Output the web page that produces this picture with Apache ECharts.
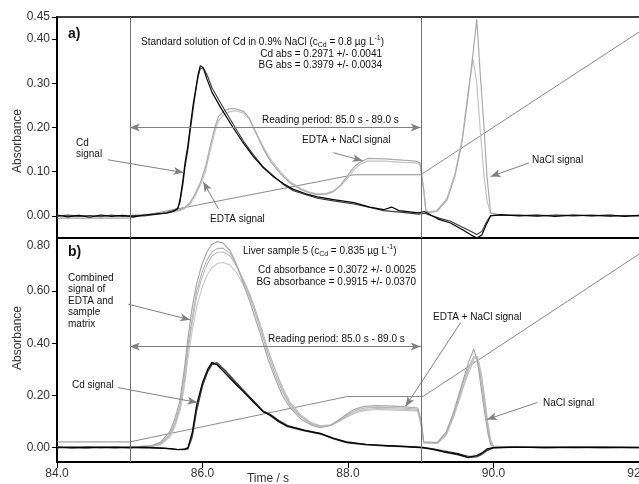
<!DOCTYPE html>
<html>
<head>
<meta charset="utf-8">
<script src="https://cdn.jsdelivr.net/npm/echarts@6/dist/echarts.min.js"></script>
<style>html,body{margin:0;padding:0;background:#fff}#c{width:639px;height:484px}</style>
</head>
<body>
<div id="c"></div>
<script>
// ---------- Data (time in s, absorbance) ----------
const xTicks = [84, 86, 88, 90, 92];
const yTicksA = [0, 0.1, 0.2, 0.3, 0.4, 0.45];
const yTicksB = [0, 0.2, 0.4, 0.6, 0.8];
const readingPeriod = [85.0, 89.0];

// Panel a: standard solution
const cdA1 = [[84.0,0.002],[84.15,-0.002],[84.3,0.001],[84.45,-0.003],[84.6,0.002],[84.75,-0.001],[84.9,0.001],[85.05,-0.002],[85.2,0.002],[85.35,0.004],[85.5,0.006],[85.6,0.01],[85.66,0.016],[85.69,0.036],[85.73,0.08],[85.76,0.12],[85.8,0.16],[85.83,0.2],[85.87,0.25],[85.9,0.28],[85.94,0.32],[85.97,0.34],[86.01,0.335],[86.06,0.31],[86.13,0.28],[86.25,0.245],[86.42,0.2],[86.56,0.165],[86.7,0.134],[86.84,0.108],[86.98,0.088],[87.12,0.072],[87.25,0.06],[87.42,0.05],[87.58,0.043],[87.8,0.037],[88.08,0.03],[88.3,0.02],[88.49,0.014],[88.6,0.02],[88.7,0.012],[88.97,0.007],[89.05,0.01],[89.25,-0.008],[89.41,-0.016],[89.58,-0.032],[89.7,-0.044],[89.77,-0.05],[89.84,-0.043],[89.9,-0.02],[89.96,0.0],[90.1,0.003],[90.35,0.0],[90.6,0.002],[90.85,-0.001],[91.1,0.002],[91.35,0.0],[91.6,0.002],[91.8,-0.001],[92.0,0.001]];
const cdA2 = [[84.0,-0.001],[84.15,0.002],[84.3,-0.001],[84.45,0.001],[84.6,-0.002],[84.75,0.002],[84.9,-0.001],[85.05,0.001],[85.2,0.0],[85.35,0.003],[85.5,0.007],[85.6,0.012],[85.66,0.018],[85.69,0.03],[85.73,0.07],[85.76,0.11],[85.8,0.15],[85.83,0.19],[85.87,0.24],[85.9,0.275],[85.94,0.315],[85.97,0.333],[86.01,0.335],[86.06,0.32],[86.13,0.29],[86.25,0.255],[86.42,0.208],[86.56,0.17],[86.7,0.138],[86.84,0.11],[86.98,0.09],[87.12,0.07],[87.25,0.057],[87.42,0.048],[87.58,0.04],[87.8,0.034],[88.08,0.027],[88.3,0.019],[88.49,0.012],[88.75,0.008],[88.97,0.004],[89.05,0.006],[89.25,-0.005],[89.41,-0.012],[89.58,-0.026],[89.7,-0.036],[89.77,-0.042],[89.84,-0.035],[89.9,-0.015],[89.96,0.001],[90.1,0.001],[90.35,0.002],[90.6,-0.001],[90.85,0.002],[91.1,0.0],[91.35,0.002],[91.6,-0.001],[91.8,0.001],[92.0,0.0]];
const edA1 = [[84.0,0.0],[84.3,0.001],[84.6,-0.001],[85.0,0.001],[85.3,0.004],[85.5,0.008],[85.65,0.012],[85.75,0.018],[85.83,0.03],[85.9,0.05],[85.97,0.075],[86.04,0.11],[86.11,0.16],[86.17,0.2],[86.22,0.225],[86.3,0.238],[86.38,0.243],[86.46,0.242],[86.57,0.236],[86.64,0.222],[86.7,0.2],[86.77,0.175],[86.84,0.15],[86.95,0.12],[87.07,0.096],[87.2,0.075],[87.35,0.06],[87.47,0.052],[87.58,0.048],[87.7,0.049],[87.8,0.055],[87.9,0.07],[87.99,0.09],[88.07,0.108],[88.15,0.12],[88.27,0.13],[88.5,0.129],[88.75,0.126],[88.93,0.124],[88.99,0.12],[89.04,0.06],[89.07,0.012],[89.11,0.007],[89.22,0.01],[89.36,0.036],[89.47,0.09],[89.57,0.17],[89.65,0.27],[89.72,0.37],[89.77,0.445],[89.82,0.316],[89.87,0.2],[89.91,0.09],[89.96,0.007],[90.1,0.002],[90.5,0.0],[91.0,0.002],[91.5,0.0],[92.0,0.001]];
const edA2 = [[84.0,0.001],[84.3,0.0],[84.6,0.001],[85.0,0.0],[85.3,0.003],[85.5,0.007],[85.65,0.01],[85.75,0.016],[85.83,0.027],[85.9,0.045],[85.97,0.07],[86.04,0.1],[86.11,0.15],[86.17,0.19],[86.22,0.215],[86.3,0.23],[86.38,0.236],[86.46,0.238],[86.57,0.232],[86.64,0.22],[86.7,0.2],[86.77,0.178],[86.84,0.155],[86.95,0.125],[87.07,0.1],[87.2,0.078],[87.35,0.062],[87.47,0.054],[87.58,0.05],[87.7,0.051],[87.8,0.057],[87.9,0.068],[87.99,0.085],[88.07,0.102],[88.15,0.115],[88.27,0.124],[88.5,0.124],[88.75,0.121],[88.93,0.12],[88.99,0.117],[89.04,0.06],[89.07,0.014],[89.11,0.009],[89.22,0.012],[89.36,0.04],[89.47,0.095],[89.57,0.175],[89.65,0.28],[89.72,0.355],[89.77,0.3],[89.82,0.19],[89.87,0.09],[89.91,0.035],[89.96,0.005],[90.1,0.001],[90.5,0.002],[91.0,0.0],[91.5,0.001],[92.0,0.0]];
const tempA = [[84.0,-0.005],[85.0,-0.005],[88.08,0.093],[89.0,0.093],[92.0,0.416]];

// Panel b: liver sample 5
const cdB1 = [[84.0,0.002],[84.2,-0.001],[84.4,0.002],[84.6,0.0],[84.8,0.002],[85.0,-0.001],[85.2,0.001],[85.4,-0.002],[85.55,-0.004],[85.65,-0.007],[85.75,-0.006],[85.8,0.0],[85.86,0.06],[85.92,0.165],[86.0,0.25],[86.07,0.3],[86.13,0.327],[86.2,0.318],[86.33,0.28],[86.45,0.245],[86.56,0.215],[86.7,0.175],[86.83,0.138],[86.93,0.125],[87.05,0.1],[87.17,0.082],[87.4,0.066],[87.62,0.054],[87.8,0.035],[87.99,0.02],[88.25,0.012],[88.55,0.008],[88.8,0.004],[89.03,0.0],[89.17,-0.006],[89.31,-0.015],[89.5,-0.025],[89.65,-0.037],[89.77,-0.03],[89.84,-0.02],[89.91,-0.005],[90.0,0.0],[90.3,0.002],[90.7,0.0],[91.1,0.002],[91.5,0.0],[92.0,0.001]];
const cdB2 = [[84.0,-0.001],[84.2,0.002],[84.4,0.0],[84.6,0.002],[84.8,-0.001],[85.0,0.001],[85.2,0.002],[85.4,-0.001],[85.55,-0.003],[85.65,-0.006],[85.75,-0.007],[85.8,-0.003],[85.86,0.05],[85.92,0.15],[86.0,0.24],[86.07,0.29],[86.13,0.318],[86.2,0.322],[86.33,0.288],[86.45,0.25],[86.56,0.22],[86.7,0.18],[86.83,0.142],[86.93,0.128],[87.05,0.104],[87.17,0.085],[87.4,0.068],[87.62,0.055],[87.8,0.037],[87.99,0.022],[88.25,0.013],[88.55,0.007],[88.8,0.005],[89.03,0.001],[89.17,-0.004],[89.31,-0.012],[89.5,-0.022],[89.65,-0.033],[89.77,-0.033],[89.84,-0.024],[89.91,-0.01],[90.0,0.0],[90.3,0.001],[90.7,0.002],[91.1,0.0],[91.5,0.002],[92.0,0.0]];
const cdB3 = [[84.0,0.001],[84.2,0.0],[84.4,-0.002],[84.6,0.001],[84.8,0.0],[85.0,0.002],[85.2,-0.001],[85.4,0.0],[85.55,-0.005],[85.65,-0.008],[85.75,-0.008],[85.8,-0.005],[85.86,0.04],[85.92,0.14],[86.0,0.235],[86.07,0.292],[86.13,0.322],[86.2,0.326],[86.33,0.292],[86.45,0.255],[86.56,0.222],[86.7,0.178],[86.83,0.14],[86.93,0.122],[87.05,0.098],[87.17,0.08],[87.4,0.064],[87.62,0.052],[87.8,0.033],[87.99,0.018],[88.25,0.01],[88.55,0.006],[88.8,0.003],[89.03,-0.001],[89.17,-0.008],[89.31,-0.017],[89.5,-0.027],[89.65,-0.039],[89.77,-0.036],[89.84,-0.026],[89.91,-0.012],[90.0,-0.001],[90.3,0.002],[90.7,0.0],[91.1,0.001],[91.5,0.002],[92.0,0.0]];
const edB1 = [[84.0,0.003],[84.4,0.001],[84.8,0.003],[85.1,0.004],[85.3,0.008],[85.42,0.02],[85.55,0.06],[85.62,0.11],[85.69,0.18],[85.75,0.3],[85.8,0.42],[85.86,0.54],[85.92,0.63],[85.99,0.7],[86.06,0.75],[86.13,0.78],[86.2,0.79],[86.28,0.785],[86.38,0.755],[86.47,0.7],[86.56,0.63],[86.65,0.56],[86.72,0.5],[86.79,0.44],[86.9,0.34],[87.0,0.265],[87.1,0.2],[87.2,0.155],[87.35,0.11],[87.5,0.086],[87.62,0.077],[87.76,0.085],[87.88,0.108],[87.99,0.13],[88.1,0.148],[88.22,0.158],[88.4,0.161],[88.55,0.16],[88.75,0.157],[88.96,0.152],[89.01,0.1],[89.04,0.022],[89.23,0.02],[89.35,0.06],[89.45,0.135],[89.52,0.2],[89.59,0.265],[89.66,0.33],[89.73,0.377],[89.78,0.33],[89.83,0.23],[89.88,0.13],[89.92,0.06],[89.96,0.012],[90.0,0.003],[90.3,0.001],[90.8,0.002],[91.3,0.0],[92.0,0.001]];
const edB2 = [[84.0,0.002],[84.4,0.003],[84.8,0.002],[85.1,0.003],[85.3,0.006],[85.42,0.016],[85.55,0.05],[85.62,0.095],[85.69,0.16],[85.75,0.27],[85.8,0.39],[85.86,0.5],[85.92,0.6],[85.99,0.67],[86.06,0.72],[86.13,0.75],[86.2,0.763],[86.28,0.765],[86.38,0.745],[86.47,0.7],[86.56,0.64],[86.65,0.58],[86.72,0.52],[86.79,0.46],[86.9,0.36],[87.0,0.28],[87.1,0.215],[87.2,0.165],[87.35,0.118],[87.5,0.09],[87.62,0.08],[87.76,0.086],[87.88,0.105],[87.99,0.125],[88.1,0.142],[88.22,0.152],[88.4,0.155],[88.55,0.154],[88.75,0.152],[88.96,0.147],[89.01,0.09],[89.04,0.02],[89.23,0.018],[89.35,0.055],[89.45,0.125],[89.52,0.19],[89.59,0.255],[89.66,0.31],[89.73,0.35],[89.78,0.34],[89.83,0.26],[89.88,0.16],[89.92,0.08],[89.96,0.02],[90.0,0.004],[90.3,0.002],[90.8,0.0],[91.3,0.002],[92.0,0.0]];
const edB3 = [[84.0,0.001],[84.4,0.002],[84.8,0.001],[85.1,0.003],[85.3,0.005],[85.42,0.013],[85.55,0.045],[85.62,0.09],[85.69,0.15],[85.75,0.25],[85.8,0.37],[85.86,0.48],[85.92,0.58],[85.99,0.65],[86.06,0.7],[86.13,0.735],[86.2,0.748],[86.28,0.75],[86.38,0.735],[86.47,0.695],[86.56,0.645],[86.65,0.59],[86.72,0.535],[86.79,0.475],[86.9,0.375],[87.0,0.295],[87.1,0.225],[87.2,0.172],[87.35,0.122],[87.5,0.093],[87.62,0.082],[87.76,0.085],[87.88,0.1],[87.99,0.12],[88.1,0.136],[88.22,0.146],[88.4,0.15],[88.55,0.149],[88.75,0.147],[88.96,0.143],[89.01,0.08],[89.04,0.019],[89.23,0.017],[89.35,0.05],[89.45,0.118],[89.52,0.18],[89.59,0.24],[89.66,0.3],[89.73,0.34],[89.78,0.35],[89.83,0.29],[89.88,0.19],[89.92,0.1],[89.96,0.03],[90.0,0.006],[90.3,0.001],[90.8,0.002],[91.3,0.0],[92.0,0.001]];
const edB4 = [[84.0,0.002],[84.4,0.0],[84.8,0.002],[85.1,0.002],[85.3,0.004],[85.42,0.01],[85.55,0.04],[85.62,0.08],[85.69,0.14],[85.75,0.23],[85.8,0.34],[85.86,0.45],[85.92,0.54],[85.99,0.61],[86.06,0.66],[86.13,0.69],[86.2,0.705],[86.28,0.71],[86.38,0.7],[86.47,0.67],[86.56,0.625],[86.65,0.575],[86.72,0.525],[86.79,0.47],[86.9,0.375],[87.0,0.3],[87.1,0.232],[87.2,0.178],[87.35,0.126],[87.5,0.096],[87.62,0.085],[87.76,0.088],[87.88,0.102],[87.99,0.118],[88.1,0.133],[88.22,0.142],[88.4,0.146],[88.55,0.145],[88.75,0.143],[88.96,0.14],[89.01,0.08],[89.04,0.018],[89.23,0.016],[89.35,0.048],[89.45,0.115],[89.52,0.175],[89.59,0.235],[89.66,0.29],[89.73,0.33],[89.78,0.33],[89.83,0.27],[89.88,0.17],[89.92,0.085],[89.96,0.025],[90.0,0.005],[90.3,0.002],[90.8,0.0],[91.3,0.001],[92.0,0.0]];
const tempB = [[84.0,0.022],[85.0,0.022],[87.99,0.196],[89.03,0.196],[92.0,0.742]];

// Annotation arrows: [start, end] in data coordinates
const arrowsA = [[[84.70,0.127],[85.74,0.098]], [[86.22,0.016],[86.01,0.077]], [[87.80,0.143],[88.20,0.125]], [[90.49,0.12],[89.96,0.089]]];
const arrowsB = [[[84.98,0.55],[85.83,0.49]], [[84.84,0.23],[85.93,0.173]], [[89.55,0.48],[88.79,0.158]], [[90.60,0.173],[89.91,0.108]]];
const readingArrowY = [0.20, 0.388];

// ---------- Chart ----------
const FONT = '"Liberation Sans", Arial, sans-serif';
const chart = echarts.init(document.getElementById('c'), null, {renderer: 'canvas'});

function line(data, color, width, xi, yi, z) {
  return {type: 'line', data: data, xAxisIndex: xi, yAxisIndex: yi, showSymbol: false, symbol: 'none',
    lineStyle: {color: color, width: width}, silent: true, z: z || 2, animation: false};
}
function marks(xi, yi, arrows, ry) {
  return [
    {type: 'line', data: [], xAxisIndex: xi, yAxisIndex: yi, silent: true,
      markLine: {silent: true, symbol: ['none', 'none'], label: {show: false}, animation: false,
        lineStyle: {color: '#707070', width: 1, type: 'solid'},
        data: readingPeriod.map(v => ({xAxis: v}))}},
    {type: 'line', data: [], xAxisIndex: xi, yAxisIndex: yi, silent: true,
      markLine: {silent: true, symbol: ['none', 'arrow'], symbolSize: [6, 10], label: {show: false}, animation: false,
        lineStyle: {color: '#808080', width: 1, type: 'solid'},
        data: arrows.map(a => [{coord: a[0]}, {coord: a[1]}])}},
    {type: 'line', data: [], xAxisIndex: xi, yAxisIndex: yi, silent: true,
      markLine: {silent: true, symbol: ['arrow', 'arrow'], symbolSize: [6, 10], label: {show: false}, animation: false,
        lineStyle: {color: '#808080', width: 1, type: 'solid'},
        data: [[{coord: [readingPeriod[0], ry]}, {coord: [readingPeriod[1], ry]}]]}}
  ];
}

const yLabel = {color: '#333', fontSize: 12, fontFamily: FONT, margin: 7};
const option = {
  animation: false,
  backgroundColor: '#fff',
  grid: [
    {left: 57, top: 17, right: 0, height: 221, containLabel: false, outerBoundsMode: 'none'},
    {left: 57, top: 239, right: 0, height: 223, containLabel: false, outerBoundsMode: 'none'}
  ],
  xAxis: [
    {gridIndex: 0, type: 'value', min: 84, max: 92, interval: 2,
      axisLine: {onZero: false, lineStyle: {color: '#000', width: 2}}, axisTick: {show: false}, axisLabel: {show: false}, splitLine: {show: false}},
    {gridIndex: 0, type: 'value', position: 'top', min: 84, max: 92, interval: 2,
      axisLine: {onZero: false, lineStyle: {color: '#000', width: 1.5}}, axisTick: {show: false}, axisLabel: {show: false}, splitLine: {show: false}},
    {gridIndex: 1, type: 'value', min: 84, max: 92, interval: 2,
      axisLine: {onZero: false, lineStyle: {color: '#000', width: 2}},
      axisTick: {show: true, length: 6, customValues: xTicks, lineStyle: {color: '#000', width: 1}},
      axisLabel: {customValues: xTicks, formatter: v => v.toFixed(1), color: '#333', fontSize: 12, fontFamily: FONT, margin: 6, showMaxLabel: true},
      splitLine: {show: false}}
  ],
  yAxis: [
    {gridIndex: 0, type: 'value', min: -0.05, max: 0.45,
      axisLine: {show: true, onZero: false, lineStyle: {color: '#000', width: 2}},
      axisTick: {show: true, length: 5, customValues: yTicksA, lineStyle: {color: '#000'}},
      axisLabel: Object.assign({customValues: yTicksA, formatter: v => v.toFixed(2)}, yLabel),
      splitLine: {show: false}},
    {gridIndex: 1, type: 'value', min: -0.055, max: 0.8,
      axisLine: {show: true, onZero: false, lineStyle: {color: '#000', width: 2}},
      axisTick: {show: true, length: 5, customValues: yTicksB.slice(0, 4), lineStyle: {color: '#000'}},
      axisLabel: Object.assign({customValues: yTicksB,
        formatter: v => (Math.abs(v - 0.8) < 1e-9 ? '{top|' + v.toFixed(2) + '}' : v.toFixed(2)),
        rich: {top: {fontSize: 12, fontFamily: FONT, color: '#333', padding: [14, 0, 0, 0]}}}, yLabel),
      splitLine: {show: false}}
  ],
  series: [
    line(tempA, '#8a8a8a', 1, 0, 0, 1),
    line(edA2, '#c4c4c4', 1.2, 0, 0, 2),
    line(edA1, '#aaaaaa', 1.2, 0, 0, 2),
    line(cdA2, '#3a3a3a', 1.1, 0, 0, 3),
    line(cdA1, '#000000', 1.2, 0, 0, 3),
    ...marks(0, 0, arrowsA, readingArrowY[0]),
    line(tempB, '#8a8a8a', 1, 2, 1, 1),
    line(edB4, '#c8c8c8', 1.1, 2, 1, 2),
    line(edB3, '#bdbdbd', 1.1, 2, 1, 2),
    line(edB2, '#b4b4b4', 1.1, 2, 1, 2),
    line(edB1, '#a8a8a8', 1.2, 2, 1, 2),
    line(cdB3, '#555555', 1.1, 2, 1, 3),
    line(cdB2, '#333333', 1.1, 2, 1, 3),
    line(cdB1, '#000000', 1.2, 2, 1, 3),
    ...marks(2, 1, arrowsB, readingArrowY[1])
  ],
  graphic: [
    {type: 'text', x: 18, y: 141, rotation: Math.PI / 2, style: {text: 'Absorbance', font: '12px ' + FONT, fill: '#333', align: 'center', verticalAlign: 'middle'}},
    {type: 'text', x: 18, y: 338, rotation: Math.PI / 2, style: {text: 'Absorbance', font: '12px ' + FONT, fill: '#333', align: 'center', verticalAlign: 'middle'}},
    {type: 'text', x: 268, y: 479, style: {text: 'Time / s', font: '12px ' + FONT, fill: '#333', align: 'center', verticalAlign: 'middle'}},
    {type: 'text', x: 68, y: 34, style: {text: 'a)', font: 'bold 14px ' + FONT, fill: '#111', align: 'left', verticalAlign: 'middle'}},
    {type: 'text', x: 68, y: 252, style: {text: 'b)', font: 'bold 14px ' + FONT, fill: '#111', align: 'left', verticalAlign: 'middle'}},
    {type: 'text', x: 141, y: 42, style: {text: 'Standard solution of Cd in 0.9% NaCl (c{sub|Cd} = 0.8 µg L{sup|-1})', font: '10px ' + FONT, fill: '#111', align: 'left', verticalAlign: 'middle', lineHeight: 14,
      rich: {sub: {fontSize: 7, fontFamily: FONT, fill: '#111', verticalAlign: 'bottom', lineHeight: 14}, sup: {fontSize: 7, fontFamily: FONT, fill: '#111', verticalAlign: 'top', lineHeight: 14}}}},
    {type: 'text', x: 382, y: 54, style: {text: 'Cd abs = 0.2971 +/- 0.0041', font: '10px ' + FONT, fill: '#111', align: 'right', verticalAlign: 'middle'}},
    {type: 'text', x: 382, y: 65, style: {text: 'BG abs = 0.3979 +/- 0.0034', font: '10px ' + FONT, fill: '#111', align: 'right', verticalAlign: 'middle'}},
    {type: 'text', x: 262, y: 120, style: {text: 'Reading period: 85.0 s - 89.0 s', font: '10px ' + FONT, fill: '#111', align: 'left', verticalAlign: 'middle'}},
    {type: 'text', x: 76, y: 149, style: {text: 'Cd\nsignal', font: '10px ' + FONT, fill: '#111', align: 'left', verticalAlign: 'middle', lineHeight: 11}},
    {type: 'text', x: 210, y: 219, style: {text: 'EDTA signal', font: '10px ' + FONT, fill: '#111', align: 'left', verticalAlign: 'middle'}},
    {type: 'text', x: 302, y: 140, style: {text: 'EDTA + NaCl signal', font: '10px ' + FONT, fill: '#111', align: 'left', verticalAlign: 'middle'}},
    {type: 'text', x: 532, y: 160, style: {text: 'NaCl signal', font: '10px ' + FONT, fill: '#111', align: 'left', verticalAlign: 'middle'}},
    {type: 'text', x: 68, y: 301, style: {text: 'Combined\nsignal of\nEDTA and\nsample\nmatrix', font: '10px ' + FONT, fill: '#111', align: 'left', verticalAlign: 'middle', lineHeight: 11.5}},
    {type: 'text', x: 72, y: 385, style: {text: 'Cd signal', font: '10px ' + FONT, fill: '#111', align: 'left', verticalAlign: 'middle'}},
    {type: 'text', x: 243, y: 251, style: {text: 'Liver sample 5 (c{sub|Cd} = 0.835 µg L{sup|-1})', font: '10px ' + FONT, fill: '#111', align: 'left', verticalAlign: 'middle', lineHeight: 14,
      rich: {sub: {fontSize: 7, fontFamily: FONT, fill: '#111', verticalAlign: 'bottom', lineHeight: 14}, sup: {fontSize: 7, fontFamily: FONT, fill: '#111', verticalAlign: 'top', lineHeight: 14}}}},
    {type: 'text', x: 416, y: 270, style: {text: 'Cd absorbance = 0.3072 +/- 0.0025', font: '10px ' + FONT, fill: '#111', align: 'right', verticalAlign: 'middle'}},
    {type: 'text', x: 416, y: 282, style: {text: 'BG absorbance = 0.9915 +/- 0.0370', font: '10px ' + FONT, fill: '#111', align: 'right', verticalAlign: 'middle'}},
    {type: 'text', x: 268, y: 339, style: {text: 'Reading period: 85.0 s - 89.0 s', font: '10px ' + FONT, fill: '#111', align: 'left', verticalAlign: 'middle'}},
    {type: 'text', x: 433, y: 317, style: {text: 'EDTA + NaCl signal', font: '10px ' + FONT, fill: '#111', align: 'left', verticalAlign: 'middle'}},
    {type: 'text', x: 543, y: 403, style: {text: 'NaCl signal', font: '10px ' + FONT, fill: '#111', align: 'left', verticalAlign: 'middle'}}
  ]
};
chart.setOption(option);
</script>
</body>
</html>
